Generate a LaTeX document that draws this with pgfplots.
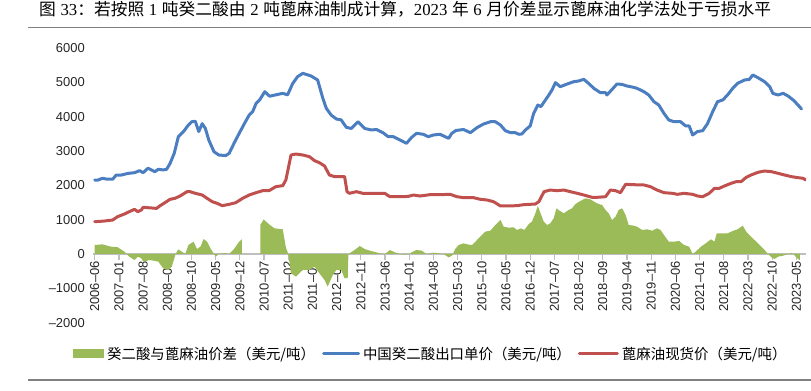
\documentclass[border=0pt]{standalone}
\usepackage{pgfplots}
\pgfplotsset{compat=1.18}
\usepackage{fontspec}
\setmainfont{Liberation Sans}
\newfontfamily\cjk{Noto Sans CJK SC}
\newfontfamily\serifnum{Liberation Serif}
\definecolor{gr}{RGB}{155,187,89}
\definecolor{bl}{RGB}{74,126,193}
\definecolor{rd}{RGB}{192,80,77}
\definecolor{axisgray}{RGB}{191,191,191}
\definecolor{rulegray}{RGB}{128,128,128}
\begin{document}
\begin{tikzpicture}
\useasboundingbox (0,0) rectangle (811bp,391bp);
\node[anchor=west, inner sep=0pt, font=\fontsize{16.8}{16.8}\selectfont] at (39bp,382bp)
{{\cjk 图} {\serifnum 33}{\cjk ：若按照} {\serifnum 1} {\cjk 吨癸二酸由} {\serifnum 2} {\cjk 吨蓖麻油制成计算，}{\serifnum 2023} {\cjk 年} {\serifnum 6} {\cjk 月价差显示蓖麻油化学法处于亏损水平}};
\draw[rulegray, line width=1.5bp] (28bp,363.5bp) -- (811bp,363.5bp);
\draw[rulegray, line width=1.5bp] (28bp,11bp) -- (811bp,11bp);
\begin{axis}[
  at={(93bp,68.4bp)}, anchor=south west,
  scale only axis, width=713bp, height=274.4bp,
  xmin=-0.5, xmax=205.8, ymin=-2000, ymax=6000,
  axis x line=middle, axis y line=left,
  axis line style={-},
  x axis line style={draw=axisgray, line width=1.5bp},
  y axis line style={draw=none},
  hide obscured x ticks=false,
  xtick={0,7,...,203},
  xticklabels={2006--06,2007--01,2007--08,2008--03,2008--10,2009--05,2009--12,2010--07,2011--02,2011--09,2012--04,2012--11,2013--06,2014--01,2014--08,2015--03,2015--10,2016--05,2016--12,2017--07,2018--02,2018--09,2019--04,2019--11,2020--06,2021--01,2021--08,2022--03,2022--10,2023--05},
  ytick={-2000,-1000,0,1000,2000,3000,4000,5000,6000},
  yticklabels={--2000,--1000,0,1000,2000,3000,4000,5000,6000},
  tick align=outside,
  major tick length=6bp,
  xtick style={draw=axisgray, line width=1.2bp},
  ytick style={draw=none},
  xticklabel style={rotate=90, anchor=east, font=\fontsize{13}{13}\selectfont, inner sep=1bp, text=black!85},
  yticklabel style={anchor=east, font=\fontsize{13}{13}\selectfont, inner sep=0pt, xshift=-2bp, text=black!85},
  legend style={at={(0.4745,-0.1144)}, anchor=center, draw=none, fill=none, legend columns=3,
    font=\cjk\fontsize{14.5}{14.5}\selectfont, inner sep=0pt,
    /tikz/every even column/.append style={column sep=4bp},
    nodes={inner xsep=3bp, inner ysep=1bp}},
]
\addplot[fill=gr, draw=none, legend image code/.code={\fill[gr] (0bp,-4.5bp) rectangle (31bp,4.5bp);}] coordinates {
(0,262)(2.2,282)(4.7,214)(6.6,200)(8.6,68)(10,-78)(11.5,-175)(12.5,-78)(13.5,-126)(14,-223)(16,-175)(18.4,-223)(19.8,-418)(21.3,-466)(22.3,-369)(23.4,0)(24.2,136)(25.2,68)(26.2,0)(27.1,262)(28.6,360)(29.6,146)(30.6,214)(31.5,437)(32.5,360)(33.6,146)(34.5,0)(35,-78)(35.9,0)(37.4,30)(38.9,0)(40.3,146)(41.8,360)(42.6,430)
} \closedcycle;
\addlegendentry{癸二酸与蓖麻油价差（美元/吨）}
\addplot[fill=gr, draw=none, forget plot] coordinates {
(47.9,845)(48.9,1011)(50.1,894)(52,748)(54.4,720)(55.3,194)(56,0)(56.8,-563)(58.2,-660)(60.2,-466)(62.1,-466)(63.6,-369)(65,-563)(66.5,-758)(67.4,-952)(68.9,-612)(69.9,-466)(71.3,-466)(72.3,-709)(73.2,-700)(73.4,0)(73.7,20)(75.2,117)(76.7,233)(78.1,146)(79.6,97)(81.5,49)(83,0)(83.9,-10)(85.4,117)(86.8,49)(88.3,0)(89.7,-20)(91.2,0)(91.7,49)(93.1,117)(94.6,97)(96,0)(98,40)(99.5,20)(100.9,0)(102.4,-97)(103.4,-49)(104.3,146)(105.3,262)(106.7,311)(108.2,272)(109.2,262)(110.6,408)(112,554)(113,651)(114.5,680)(115.9,845)(117.4,991)(118.3,797)(119.8,768)(121.2,778)(122.2,700)(123.3,748)(124.3,700)(125.6,875)(126.5,943)(127.5,1186)(128.2,1400)(129,1186)(129.9,943)(130.9,845)(131.8,894)(132.8,1040)(133.6,1332)(134.2,1283)(135.7,1186)(137.1,1283)(138.1,1332)(139.1,1458)(140.5,1545)(142,1623)(143.4,1594)(145.3,1477)(146.8,1428)(147.8,1283)(148.7,1186)(149.7,991)(150.7,1088)(151.6,1283)(152.6,1332)(153.6,1137)(154.5,845)(156,826)(156.9,797)(158.4,700)(159.8,720)(161.3,680)(162.7,748)(163.7,700)(164.7,554)(166.1,360)(167.6,360)(169.1,380)(170.5,262)(172,214)(173,0)(174,78)(175.4,214)(176.8,311)(178.3,428)(179.3,360)(180,603)(181.7,603)(183.1,603)(184.6,670)(186,720)(187.5,826)(188.5,651)(189.4,554)(190.9,408)(192.4,262)(193.8,117)(194.8,0)(195.8,-97)(196.7,-146)(197.7,-78)(199.2,-49)(200.6,0)(201.6,30)(202.6,-49)(203.5,-146)(204,-180)
} \closedcycle;
\addplot[bl, line width=3bp, line join=round, line cap=round, legend image code/.code={\draw[bl, line width=3bp, line cap=round] (0bp,0bp) -- (35bp,0bp);}] coordinates {
(0,2157)(0.8,2150)(2.2,2207)(3.7,2180)(5.2,2180)(6.2,2300)(7.6,2300)(9.6,2350)(11.5,2370)(13,2430)(14,2370)(15.4,2500)(17.4,2400)(18.4,2470)(19.8,2450)(20.8,2470)(21.8,2640)(23,2935)(24.2,3420)(25.7,3570)(27.1,3760)(28.1,3857)(29.1,3870)(30.1,3570)(31.1,3800)(32,3664)(33,3324)(34.5,2983)(35.9,2886)(37.9,2870)(38.9,2935)(40.3,3227)(41.8,3518)(43.3,3800)(44.7,4052)(45.7,4150)(46.7,4393)(47.7,4490)(49.2,4732)(50.6,4600)(52.4,4640)(54.4,4684)(55.8,4640)(57.3,4975)(58.7,5170)(60.2,5268)(62.6,5190)(64.5,5073)(66,4540)(67,4248)(68.4,4052)(69.9,3936)(71.3,3910)(72.8,3693)(74.2,3660)(76.2,3857)(78.1,3660)(80.1,3615)(81.5,3630)(83.4,3537)(84.9,3420)(86.4,3420)(88.3,3324)(90.2,3227)(91.7,3400)(93.1,3518)(95.1,3490)(96.5,3420)(98,3470)(99.9,3490)(101.4,3420)(102.4,3372)(103.3,3518)(104.5,3600)(106.7,3630)(108.7,3537)(110.6,3684)(112.5,3790)(114.5,3857)(115.9,3857)(117.4,3760)(118.8,3595)(120.3,3537)(121.7,3537)(122.7,3490)(123.6,3500)(124.6,3615)(126,3732)(127,4100)(128.2,4344)(129.1,4296)(130.4,4490)(131.4,4636)(132.3,4781)(133.3,4995)(134.7,4878)(136.7,4956)(138.6,5024)(140,5044)(141.5,5092)(142.9,4975)(144.4,4830)(146.3,4704)(147.8,4704)(148.2,4636)(149.7,4800)(151.1,4956)(152.6,4945)(154,4898)(155.9,4860)(156.9,4830)(158.9,4732)(160.3,4636)(161.8,4441)(163.2,4344)(164.7,4100)(166.1,3907)(167.6,3857)(169.5,3857)(171,3732)(172,3732)(173,3470)(174.4,3570)(175.9,3595)(177.3,3800)(178.8,4150)(180.2,4441)(181.7,4490)(183.1,4636)(184.6,4830)(186,4975)(188,5073)(189.4,5090)(190.4,5219)(191.9,5140)(193.8,5024)(195.3,4878)(196.2,4684)(197.7,4636)(199.2,4684)(200.6,4606)(202.1,4490)(203.5,4344)(204.5,4227)
};
\addlegendentry{中国癸二酸出口单价（美元/吨）}
\addplot[rd, line width=3bp, line join=round, line cap=round, legend image code/.code={\draw[rd, line width=3bp, line cap=round] (0bp,0bp) -- (38bp,0bp);}] coordinates {
(0,942)(2.7,960)(5.2,991)(6.6,1088)(8.6,1166)(10,1234)(11.5,1302)(12.5,1234)(13.5,1283)(14,1361)(15.4,1350)(17.9,1330)(18.8,1400)(20.3,1496)(21.8,1594)(23.2,1623)(24.7,1691)(26.7,1817)(27.6,1817)(29.1,1769)(31.1,1720)(32.5,1623)(34,1525)(35.4,1477)(36.9,1409)(38.9,1448)(40.8,1496)(42.8,1623)(44.7,1720)(46.7,1788)(48.6,1846)(50.5,1850)(52.4,1963)(54.4,1993)(55.3,2157)(56.8,2886)(58.2,2915)(60.2,2886)(62.1,2838)(63.6,2721)(65,2663)(66.5,2566)(67.9,2303)(69.4,2255)(72.3,2255)(73,1817)(73.7,1769)(75.7,1817)(77.6,1769)(79.6,1769)(81.5,1769)(83.9,1769)(85.4,1671)(89.3,1671)(90.7,1680)(92.2,1720)(94.1,1690)(97,1730)(99.9,1730)(102.8,1740)(104.8,1671)(106.7,1642)(109.6,1642)(111.6,1594)(113.5,1574)(115.4,1525)(117.4,1400)(119.3,1400)(122.2,1409)(124.1,1438)(127.5,1457)(128.5,1525)(130,1817)(131.8,1865)(133.8,1846)(135.7,1865)(137.6,1817)(139.6,1769)(141.5,1720)(143.9,1652)(145.3,1652)(147.8,1671)(149.2,1865)(150.7,1846)(152.1,1788)(153.6,2031)(156,2020)(158.9,2012)(160.8,1963)(162.7,1865)(164.7,1788)(167.1,1769)(168.6,1740)(170.5,1769)(173,1740)(174.4,1691)(175.9,1671)(177.8,1769)(179.3,1914)(180.7,1914)(182.2,1983)(184.1,2060)(185.6,2108)(187,2108)(188.5,2235)(189.9,2303)(191.9,2381)(193.8,2420)(195.8,2400)(197.7,2352)(199.6,2303)(201.6,2255)(203.5,2225)(205,2206)(205.7,2157)
};
\addlegendentry{蓖麻油现货价（美元/吨）}
\end{axis}
\end{tikzpicture}
\end{document}
